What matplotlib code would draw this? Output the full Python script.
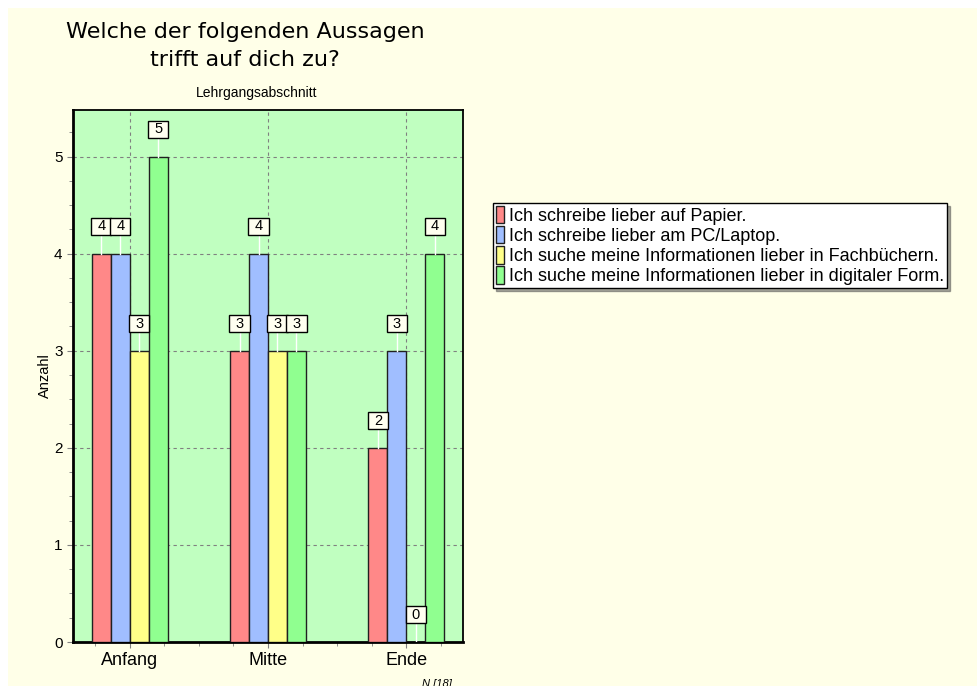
import numpy as np
import matplotlib.pyplot as plt
from matplotlib.patches import Rectangle
from matplotlib.ticker import MultipleLocator

# data
categories = ['Anfang', 'Mitte', 'Ende']
series_names = ['Ich schreibe lieber auf Papier.',
                'Ich schreibe lieber am PC/Laptop.',
                'Ich suche meine Informationen lieber in Fachbüchern.',
                'Ich suche meine Informationen lieber in digitaler Form.']
papier = [4, 3, 2]
pc = [4, 4, 3]
fachbuch = [3, 3, 0]
digital = [5, 3, 4]
colors = ['#ff8888', '#a0beff', '#ffff88', '#90ff90']

plt.rcParams['font.family'] = ['Liberation Sans', 'DejaVu Sans']

fig = plt.figure(figsize=(9.78, 6.86), dpi=100)
fig.patch.set_facecolor('white')
fig.patches.append(Rectangle((8/978, 0), 1, 1 - 8/686, transform=fig.transFigure,
                             facecolor='#ffffe8', edgecolor='none', zorder=-10))

ax = fig.add_axes([73/978, 1 - 642/686, 390/978, 532/686])
ax.set_facecolor('#c0ffc0')

x = np.arange(len(categories))
w = 0.137
bh = 0.175  # label box height
allvals = [papier, pc, fachbuch, digital]
for i, vals in enumerate(allvals):
    xs = x + (i - 1.5) * w
    ax.bar(xs, vals, width=w, color=colors[i], edgecolor='#202020', lw=1, zorder=3,
           label=series_names[i])
    for xi, v in zip(xs, vals):
        yc = v + 0.28
        ax.plot([xi, xi], [v, yc - bh / 2], color='white', lw=1, zorder=3)
        ax.add_patch(Rectangle((xi - w / 2 - 0.005, yc - bh / 2), w + 0.01, bh,
                               facecolor='#fffff0', edgecolor='black', lw=1, zorder=5))
        ax.text(xi, yc, str(v), ha='center', va='center', fontsize=10.5, zorder=6)

ax.set_xlim(-0.41, 2.41)
ax.set_ylim(0, 5.48)
ax.set_xticks(x)
ax.set_xticklabels(categories, fontsize=13)
ax.xaxis.set_minor_locator(MultipleLocator(0.25))
ax.yaxis.set_major_locator(MultipleLocator(1))
ax.yaxis.set_minor_locator(MultipleLocator(0.25))
ax.tick_params(axis='both', which='both', direction='out', color='#808080')
ax.tick_params(axis='both', which='major', length=4)
ax.tick_params(axis='both', which='minor', length=3)
ax.tick_params(axis='y', labelsize=11)
ax.grid(True, which='major', ls=(0, (3, 3)), color='#808080', lw=0.8, zorder=1)
ax.set_axisbelow(True)
for s in ['left', 'bottom']:
    ax.spines[s].set_linewidth(2)
for s in ['top', 'right']:
    ax.spines[s].set_linewidth(1.3)

ax.set_ylabel('Anzahl', fontsize=10.5)
ax.yaxis.set_label_coords(-0.054, 0.5)

fig.text(245/978, 1 - 46/686, 'Welche der folgenden Aussagen\ntrifft auf dich zu?',
         ha='center', va='center', fontsize=16, family='DejaVu Sans', linespacing=1.45)
fig.text(257/978, 1 - 93/686, 'Lehrgangsabschnitt', ha='center', va='center', fontsize=10)
fig.text(437/978, 1 - 684/686, 'N [18]', ha='center', va='center', fontsize=8, style='italic')

leg = fig.legend(loc='upper left', bbox_to_anchor=(493/978, 1 - 203/686), fontsize=13,
                 handlelength=0.45, handleheight=1.1, handletextpad=0.3, labelspacing=0.08,
                 borderpad=0.15, borderaxespad=0, fancybox=False, shadow=True,
                 edgecolor='black', framealpha=1)
leg.get_frame().set_linewidth(1)

fig.savefig('out.png', dpi=100, facecolor=fig.get_facecolor())
